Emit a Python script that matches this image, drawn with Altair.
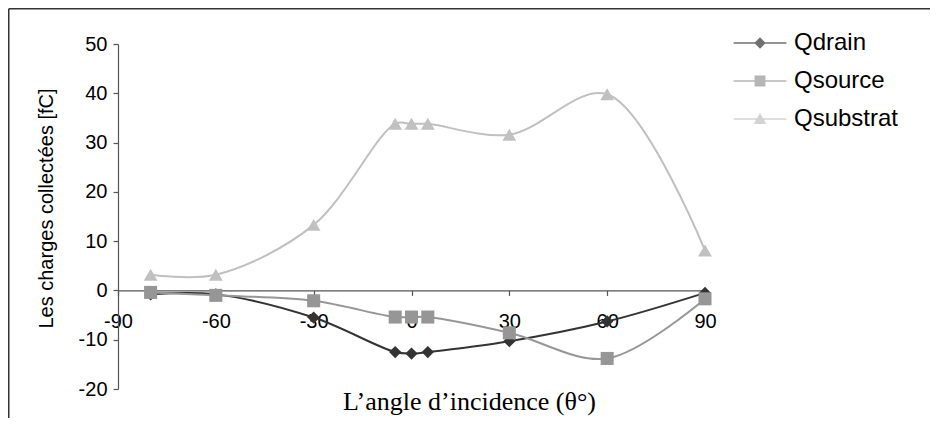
import altair as alt
import pandas as pd

# ---- data ----
angles = [-80, -60, -30, -5, 0, 5, 30, 60, 90]
qdrain = [-0.8, -0.8, -5.5, -12.5, -12.8, -12.5, -10.3, -6.3, -0.5]
qsource = [-0.4, -1.0, -2.1, -5.4, -5.4, -5.4, -8.6, -13.8, -1.7]
qsubstrat = [3.2, 3.2, 13.3, 33.8, 33.8, 33.8, 31.6, 39.8, 8.1]

series_names = ["Qdrain", "Qsource", "Qsubstrat"]
series_colors = ["#333333", "#969696", "#c0c0c0"]
series_shapes = ["diamond", "square", "triangle-up"]
series_sizes = [150, 170, 190]
legend_paths = [
    "M-4.4,-0.14H4.4V0.14H-4.4ZM0,-0.95L0.95,0L0,0.95L-0.95,0Z",
    "M-4.4,-0.14H4.4V0.14H-4.4ZM-0.9,-0.9H0.9V0.9H-0.9Z",
    "M-4.4,-0.14H4.4V0.14H-4.4ZM0,-1.0L1.05,0.85H-1.05Z",
]

x_ticks = [-90, -60, -30, 0, 30, 60, 90]
y_ticks = [-20, -10, 0, 10, 20, 30, 40, 50]

rows = []
for name, vals in zip(series_names, [qdrain, qsource, qsubstrat]):
    for a, v in zip(angles, vals):
        rows.append({"angle": a, "value": v, "series": name})
df = pd.DataFrame(rows)

W, H = 587, 345
x_offset = -H * 20 / 70  # axis crosses at y = 0

x_enc = alt.X(
    "angle:Q",
    scale=alt.Scale(domain=[-90, 90], nice=False, zero=False),
    axis=alt.Axis(
        values=x_ticks, labelExpr="datum.value + ''", offset=x_offset, grid=False,
        title="L\u2019angle d\u2019incidence (\u03b8\u00b0)",
        titleFont="Liberation Serif", titleFontSize=26, titleFontWeight="normal",
        titleColor="#000000", titleX=351, titleY=119, titleAlign="center",
        titleBaseline="alphabetic",
        labelFont="Liberation Sans", labelFontSize=20, labelColor="#000000",
        labelPadding=16, tickSize=5, labelOverlap=False, labelBound=False,
        labelFlush=False,
    ),
)
y_enc = alt.Y(
    "value:Q",
    scale=alt.Scale(domain=[-20, 50], nice=False, zero=False),
    axis=alt.Axis(
        values=y_ticks, labelExpr="datum.value + ''", grid=False,
        title="Les charges collect\u00e9es [fC]",
        titleFont="Liberation Sans", titleFontSize=20, titleFontWeight="normal",
        titleColor="#000000", titleX=-66, titleY=164, titleAngle=270,
        titleAlign="center", titleBaseline="alphabetic",
        labelFont="Liberation Sans", labelFontSize=20, labelColor="#000000",
        labelPadding=6, tickSize=5,
    ),
)

base = alt.Chart(df)
layers = []
for name, col in zip(series_names, series_colors):
    sub = base.transform_filter(alt.datum.series == name)
    layers.append(
        sub.mark_line(interpolate="catmull-rom", color=col, strokeWidth=2).encode(x=x_enc, y=y_enc)
    )
for name, col, shp, sz in zip(series_names, series_colors, series_shapes, series_sizes):
    sub = base.transform_filter(alt.datum.series == name)
    layers.append(
        sub.mark_point(filled=True, shape=shp, size=sz, color=col, opacity=1).encode(x=x_enc, y=y_enc)
    )

leg = alt.Legend(
    title=None, orient="none", legendX=630, legendY=-13, padding=0,
    symbolSize=144, labelFont="Liberation Sans", labelFontSize=24,
    labelColor="#000000", labelOffset=22, rowPadding=14,
    symbolStrokeWidth=0,
)
legend_layer = base.transform_filter("false").mark_point(filled=True).encode(
    x=alt.X("angle:Q"),
    y=alt.Y("value:Q"),
    color=alt.Color("series:N", scale=alt.Scale(domain=series_names, range=series_colors), legend=leg),
    shape=alt.Shape("series:N", scale=alt.Scale(domain=series_names, range=legend_paths), legend=leg),
)
layers.append(legend_layer)

frame_data = alt.Data(values=[{"k": 1}])
frame_top = alt.Chart(frame_data).mark_rule(color="#333333", strokeWidth=1.5).encode(
    x=alt.value(-109.25), x2=alt.value(812), y=alt.value(-35.25)
)
frame_left = alt.Chart(frame_data).mark_rule(color="#333333", strokeWidth=1.5).encode(
    x=alt.value(-109.25), y=alt.value(-35.25), y2=alt.value(375)
)
layers += [frame_top, frame_left]

chart = alt.layer(*layers).properties(
    width=W, height=H,
    autosize=alt.AutoSizeParams(type="none"),
    padding={"left": 110, "top": 36, "right": 225, "bottom": 29},
).configure_view(stroke=None).configure_axis(
    domainColor="#555555", tickColor="#555555", domainWidth=1.2, tickWidth=1.2
)

chart.save("out.html", embed_options={"renderer": "svg", "actions": False})
